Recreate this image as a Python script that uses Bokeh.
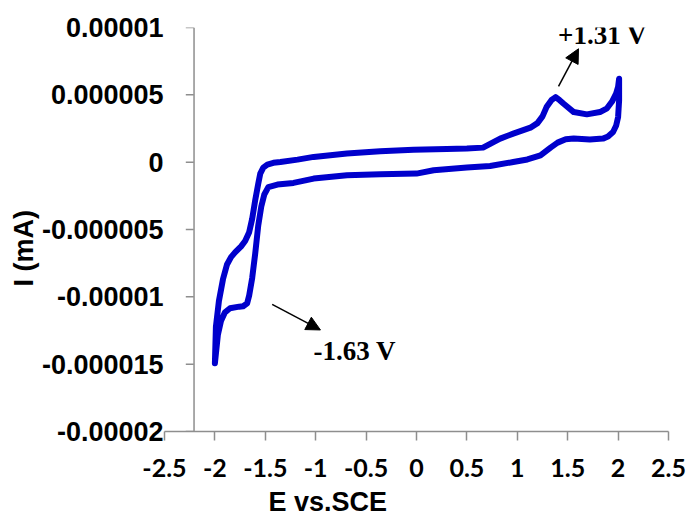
import math
from bokeh.plotting import figure
from bokeh.models import (FixedTicker, CustomJSTickFormatter, Label, Arrow,
                          NormalHead, Span, Range1d, Title)
from bokeh.embed import file_html
from bokeh.resources import INLINE

# ---- data (potential in V, current in A) ----
E_fwd = [-2.00, -1.99, -1.96, -1.92, -1.88, -1.84, -1.80, -1.74, -1.70, -1.66,
         -1.63, -1.60, -1.57, -1.55, -1.52, -1.48, -1.42, -1.35, -1.18, -1.02,
         -0.69, -0.36, -0.03, 0.30, 0.50, 0.66, 0.74, 0.83, 0.96, 1.13, 1.20,
         1.25, 1.29, 1.34, 1.38, 1.42, 1.46, 1.56, 1.69, 1.82, 1.89, 1.94, 1.98,
         2.00, 2.01]
I_fwd = [-14.93e-6, -12.22e-6, -10.30e-6, -8.70e-6, -7.60e-6, -7.05e-6, -6.70e-6,
         -6.25e-6, -5.85e-6, -5.20e-6, -4.20e-6, -2.82e-6, -1.60e-6, -0.85e-6,
         -0.40e-6, -0.18e-6, -0.05e-6, 0.01e-6, 0.19e-6, 0.39e-6, 0.64e-6,
         0.81e-6, 0.93e-6, 0.98e-6, 1.01e-6, 1.08e-6, 1.40e-6, 1.75e-6, 2.12e-6,
         2.56e-6, 2.90e-6, 3.40e-6, 4.09e-6, 4.62e-6, 4.83e-6, 4.60e-6, 4.34e-6,
         3.72e-6, 3.55e-6, 3.72e-6, 4.00e-6, 4.50e-6, 5.10e-6, 5.60e-6, 6.20e-6]
E_rev = [2.01, 2.00, 1.98, 1.95, 1.90, 1.85, 1.72, 1.56, 1.48, 1.40, 1.33, 1.23,
         1.10, 0.96, 0.73, 0.50, 0.17, 0.00, -0.36, -0.69, -1.02, -1.22, -1.38,
         -1.47, -1.51, -1.54, -1.57, -1.60, -1.63, -1.66, -1.68, -1.72, -1.76,
         -1.85, -1.90, -1.94, -1.97, -2.00]
I_rev = [4.59e-6, 3.35e-6, 2.70e-6, 2.24e-6, 1.90e-6, 1.75e-6, 1.68e-6, 1.75e-6,
         1.70e-6, 1.45e-6, 1.08e-6, 0.51e-6, 0.20e-6, 0.01e-6, -0.28e-6,
         -0.40e-6, -0.60e-6, -0.85e-6, -0.90e-6, -0.97e-6, -1.22e-6, -1.54e-6,
         -1.66e-6, -1.85e-6, -2.40e-6, -3.30e-6, -4.70e-6, -6.78e-6, -8.60e-6,
         -9.90e-6, -10.48e-6, -10.70e-6, -10.73e-6, -10.85e-6, -11.15e-6,
         -11.80e-6, -12.80e-6, -14.93e-6]

x_ticks = [-2.5, -2.0, -1.5, -1.0, -0.5, 0.0, 0.5, 1.0, 1.5, 2.0, 2.5]
x_tick_labels = ["-2.5", "-2", "-1.5", "-1", "-0.5", "0", "0.5", "1", "1.5", "2", "2.5"]
y_ticks = [-0.00002, -0.000015, -0.00001, -0.000005, 0.0, 0.000005, 0.00001]
y_tick_labels = ["-0.00002", "-0.000015", "-0.00001", "-0.000005", "0",
                 "0.000005", "0.00001"]
x_title = "E vs.SCE"
y_title = "I (mA)"
peak_ox_label = "+1.31 V"
peak_red_label = "-1.63 V"

AXIS_GRAY = "#8E8E8E"
CURVE_BLUE = "#0000CC"

p = figure(width=696, height=521, output_backend="svg", toolbar_location=None,
           x_range=Range1d(-2.5, 2.5), y_range=Range1d(-0.00002, 0.00001),
           min_border_left=164, min_border_right=28, min_border_top=27,
           min_border_bottom=89)
p.outline_line_color = None
p.grid.visible = False
p.background_fill_color = "white"
p.border_fill_color = "white"

# x axis
xa = p.xaxis[0]
xa.ticker = FixedTicker(ticks=x_ticks)
xa.formatter = CustomJSTickFormatter(args=dict(labels=x_tick_labels),
                                     code="return labels[Math.round(tick*2)+5];")
xa.axis_line_color = AXIS_GRAY
xa.axis_line_width = 1.5
xa.major_tick_line_color = AXIS_GRAY
xa.major_tick_line_width = 1.5
xa.major_tick_in = 0
xa.major_tick_out = 9
xa.minor_tick_line_color = None
xa.major_label_text_font = "Lato"
xa.major_label_text_font_style = "bold"
xa.major_label_text_font_size = "25px"
xa.major_label_text_color = "black"
xa.major_label_standoff = 18

# y axis (labels only; line and ticks drawn at the crossing point)
ya = p.yaxis[0]
ya.ticker = FixedTicker(ticks=y_ticks)
ya.formatter = CustomJSTickFormatter(args=dict(labels=y_tick_labels),
                                     code="return labels[Math.round(tick/5e-6)+4];")
ya.axis_line_color = None
ya.major_tick_line_color = None
ya.minor_tick_line_color = None
ya.major_tick_in = 0
ya.major_tick_out = 0
ya.major_label_standoff = 1
ya.major_label_text_font = "Liberation Sans"
ya.major_label_text_font_style = "bold"
ya.major_label_text_font_size = "27px"
ya.major_label_text_color = "black"

Y_AXIS_X = -2.207
p.add_layout(Span(location=Y_AXIS_X, dimension="height", line_color=AXIS_GRAY,
                  line_width=1.5))
p.scatter(x=[Y_AXIS_X - 0.042] * len(y_ticks), y=y_ticks, marker="dash", size=8,
          line_color=AXIS_GRAY, line_width=1.5)

# curve
E_all = E_fwd + E_rev
I_all = I_fwd + I_rev
p.line(E_all, I_all, line_color=CURVE_BLUE, line_width=6, line_join="round",
       line_cap="round")

# arrows and annotations
p.add_layout(Arrow(end=NormalHead(size=14, fill_color="black", line_color="black"),
                   x_start=-1.432, y_start=-1.0556e-5, x_end=-0.953, y_end=-1.246e-5,
                   line_color="black", line_width=1.5))
p.add_layout(Arrow(end=NormalHead(size=14, fill_color="black", line_color="black"),
                   x_start=1.409, y_start=5.63e-6, x_end=1.607, y_end=8.42e-6,
                   line_color="black", line_width=1.5))

ann_style = dict(text_font="Liberation Serif", text_font_style="bold",
                 text_font_size="27px", text_color="black",
                 text_align="left", text_baseline="alphabetic")
p.add_layout(Label(x=-1.022, y=-1.402e-5, text=peak_red_label, **ann_style))
p.add_layout(Label(x=1.405, y=9.41e-6, text=peak_ox_label, **ann_style))

# axis titles
p.add_layout(Title(text=x_title, align="left", offset=104, standoff=10,
                   text_font="Liberation Sans", text_font_style="bold",
                   text_font_size="27px", text_color="black"), "below")
p.add_layout(Title(text=y_title, align="left", offset=145, standoff=0,
                   text_font="Liberation Sans", text_font_style="bold",
                   text_font_size="27px", text_color="black"), "left")

open("out.html", "w").write(file_html(p, INLINE))
